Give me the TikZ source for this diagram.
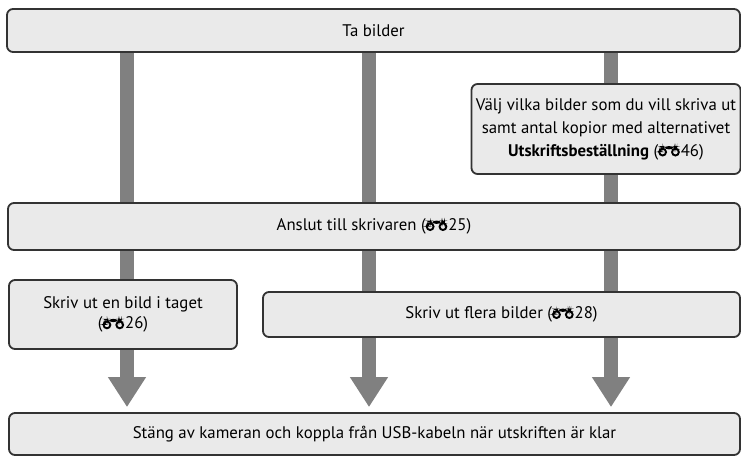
\documentclass[tikz,border=0pt]{standalone}
\usepackage{fontspec}
\setmainfont{PT Sans}
\usetikzlibrary{arrows.meta,positioning,backgrounds}
\definecolor{BoxFill}{RGB}{234,234,234}
\definecolor{BoxLine}{RGB}{51,51,51}
\definecolor{StemGray}{RGB}{128,128,128}

% small binocular reference mark
\newcommand{\refmark}{\tikz[baseline=0pt,x={(1pt,0pt)},y={(0pt,1pt)},line width=1.9pt]{%
  \draw (4.8,4.0) circle (3.4pt);
  \draw (17.6,4.0) circle (3.4pt);
  \fill (4.8,6.8) rectangle (17.6,10.0);
  \fill (0.6,4.0) -- (2.4,10.0) -- (5.8,10.0) -- (3.1,4.0) -- cycle;
  \fill (16.2,6.8) rectangle (19.4,10.0);}\kern1pt}

\begin{document}
\begin{tikzpicture}[
  x=1pt, y=-1pt,
  stepbox/.style={
    draw=BoxLine,
    fill=BoxFill,
    rounded corners=6pt,
    line width=1.8pt,
    align=center,
    inner sep=0pt
  },
  stem/.style={
    draw=StemGray,
    line width=14pt,
    -{Triangle[width=36pt,length=30pt]},
    shorten >=5pt
  },
  font=\fontsize{16.8}{20.5}\selectfont
]
\useasboundingbox (0,0) rectangle (741,457);

\coordinate (c1) at (127,0);
\coordinate (c2) at (369,0);
\coordinate (c3) at (611,0);

\node[stepbox, minimum width=733pt, minimum height=43pt] (tabilder) at (373.5,30.5) {Ta bilder};
\node[stepbox, minimum width=269pt, minimum height=90pt, font=\fontsize{16.8}{23}\selectfont] (valj) at (606,129)
  {Välj vilka bilder som du vill skriva ut\\samt antal kopior med alternativet\\\textbf{Utskriftsbeställning} (\refmark46)};
\node[stepbox, minimum width=732pt, minimum height=47pt] (anslut) at (374,226.5) {Anslut till skrivaren (\refmark25)};
\node[stepbox, minimum width=228pt, minimum height=69pt] (skrivena) at (123,314.5)
  {Skriv ut en bild i taget\\(\refmark26)};
\node[stepbox, minimum width=477pt, minimum height=45pt] (skrivflera) at (501.5,314.5) {Skriv ut flera bilder (\refmark28)};
\node[stepbox, minimum width=731pt, minimum height=42pt] (stang) at (374.5,434)
  {Stäng av kameran och koppla från USB-kabeln när utskriften är klar};

\begin{scope}[on background layer]
\draw[stem] (tabilder.south -| c1) -- (stang.north -| c1);
\draw[stem] (tabilder.south -| c2) -- (stang.north -| c2);
\draw[stem] (tabilder.south -| c3) -- (stang.north -| c3);
\end{scope}
\end{tikzpicture}
\end{document}
